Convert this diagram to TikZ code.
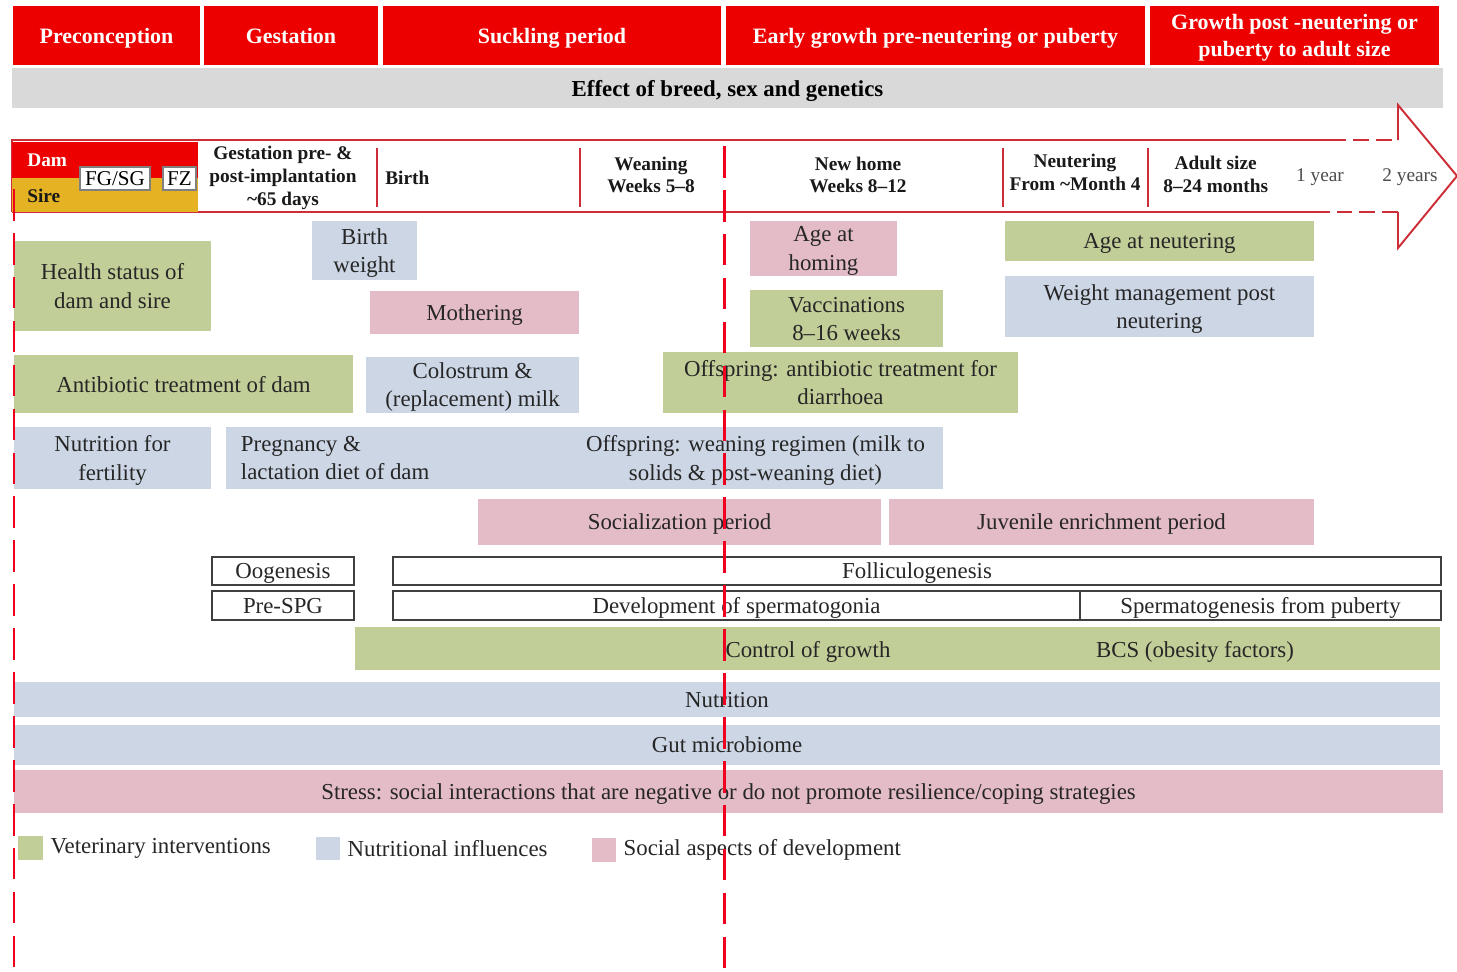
\documentclass[tikz,border=0pt]{standalone}
\usepackage{fontspec}
\setmainfont{Liberation Serif}
\usepackage{tikz}
\usetikzlibrary{positioning}

\definecolor{hdrred}{RGB}{236,0,0}
\definecolor{bandgray}{RGB}{217,217,217}
\definecolor{vetgreen}{RGB}{194,206,152}
\definecolor{nutblue}{RGB}{204,214,229}
\definecolor{socpink}{RGB}{228,188,200}
\definecolor{siregold}{RGB}{228,178,34}
\definecolor{arrred}{RGB}{205,45,55}
\definecolor{lnred}{RGB}{240,0,30}

\begin{document}
\begin{tikzpicture}[
    x=0.02cm, y=-0.02cm,
    region/.style args={#1/#2/#3/#4}{at={({(#1+#3)/2},{(#2+#4)/2})},
        minimum width={(#3-#1)*0.02cm}, minimum height={(#4-#2)*0.02cm}},
    txt/.style={font=\fontsize{13}{16}\selectfont, text=black!85, align=center, inner sep=0pt},
    band/.style={txt, fill=#1, text depth=0pt},
    outbox/.style={txt, draw=black!75, line width=0.9pt, fill=white, text depth=0pt},
    hdr/.style={fill=hdrred, draw=white, line width=1pt, inner sep=0pt, text=white, align=center,
                text depth=0pt, font=\bfseries\fontsize{12.5}{15}\selectfont},
    tl/.style={font=\bfseries\fontsize{11}{13}\selectfont, text=black!90, align=center, inner sep=0pt},
    tag/.style={draw=black!50, fill=white, line width=0.6pt, inner sep=0pt, text depth=0pt,
                font=\fontsize{12}{14}\selectfont},
    divider/.style={draw=arrred, line width=1.1pt},
    vline/.style={draw=lnred, line width=1.7pt, dash pattern=on 18pt off 7pt}
]
\path[fill=white, use as bounding box] (0,0) rectangle (1457,971);

% Stage header
\node[hdr, region=12/5/201/66] (pre) {Preconception};
\node[hdr, region=203/5/379/66] (gest) {Gestation};
\node[hdr, region=382/5/722/66] (suck) {Suckling period};
\node[hdr, region=725/5/1146/66] (early) {Early growth pre-neutering or puberty};
\node[hdr, region=1149/5/1440/66] (late) {Growth post -neutering or\\puberty to adult size};
\node[band=bandgray, region=12/68/1443/108, font=\bfseries\fontsize{13}{16}\selectfont, text=black] (breed) {Effect of breed, sex and genetics};

% Timeline arrow
\fill[white] (12,140) -- (1398,140) -- (1398,105) -- (1457,176) -- (1398,248) -- (1398,212) -- (12,212) -- cycle;
\draw[divider] (12,212) -- (12,140) -- (1330,140);
\draw[divider, dash pattern=on 9pt off 4pt] (1330,140) -- (1398,140);
\draw[divider] (1398,140) -- (1398,105) -- (1457,176) -- (1398,248) -- (1398,212);
\draw[divider, dash pattern=on 9pt off 4pt] (1398,212) -- (1330,212);
\draw[divider] (1330,212) -- (12,212);

\node[fill=hdrred, inner sep=0pt, region=12/142/198/178] (dam) {};
\node[fill=siregold, inner sep=0pt, region=12/178/198/212] (sire) {};
\node[tl, text=white, anchor=west] (damtxt) at (27,160) {Dam};
\node[tl, anchor=west] (siretxt) at (27,196) {Sire};
\node[tag, region=80/167/150/190] (fgsg) {FG/SG};
\node[tag, region=163/167/196/190] (fz) {FZ};

\node[tl] (gpi) at (283,178) {Gestation pre- \&\\post-implantation\\\textasciitilde65 days};
\node[tl, anchor=west] (birth) at (385,178) {Birth};
\node[tl] (wean) at (651,175) {Weaning\\Weeks 5--8};
\node[tl] (home) at (858,175) {New home\\Weeks 8--12};
\node[tl] (neut) at (1075,172) {Neutering\\From \textasciitilde Month 4};
\node[tl, anchor=west] (adult) at (1163,174) {Adult size\\8--24 months};
\node[txt, font=\fontsize{11}{13}\selectfont, text=black!70] (yr1) at (1320,177) {1 year};
\node[txt, font=\fontsize{11}{13}\selectfont, text=black!70] (yr2) at (1410,177) {2 years};

\foreach \xpos in {377, 580, 1003, 1148} {
    \draw[divider] (\xpos,148) -- (\xpos,207);
}

% Influences
\node[band=nutblue, region=312/221/417/280] (bw) {Birth\\weight};
\node[band=vetgreen, region=14/241/211/331] (health) {Health status of\\dam and sire};
\node[band=socpink, region=370/291/579/334] (mother) {Mothering};
\node[band=socpink, region=750/221/897/276] (homing) {Age at\\homing};
\node[band=vetgreen, region=750/290/943/347] (vacc) {Vaccinations\\8--16 weeks};
\node[band=vetgreen, region=1005/221/1314/261] (ageneut) {Age at neutering};
\node[band=nutblue, region=1005/276/1314/337] (weight) {Weight management post\\neutering};
\node[band=vetgreen, region=14/355/353/413] (abdam) {Antibiotic treatment of dam};
\node[band=nutblue, region=366/357/579/413] (colos) {Colostrum \&\\(replacement) milk};
\node[band=vetgreen, region=663/352/1018/413] (aboff) {Offspring: antibiotic treatment for\\diarrhoea};
\node[band=nutblue, region=14/427/211/489] (fert) {Nutrition for\\fertility};
\node[band=nutblue, region=226/427/570/489] (preg) {};
\node[txt, anchor=west, align=left, text depth=0pt] (pregtxt) at ([xshift=0.3cm]preg.west) {Pregnancy \&\\lactation diet of dam};
\node[band=nutblue, region=568/427/943/489] (weanreg) {Offspring: weaning regimen (milk to\\solids \& post-weaning diet)};
\node[band=socpink, region=478/499/881/545] (social) {Socialization period};
\node[band=socpink, region=889/499/1314/545] (juv) {Juvenile enrichment period};

% Germ cells
\node[outbox, region=212/557/354/585] (oog) {Oogenesis};
\node[outbox, region=393/557/1441/585] (foll) {Folliculogenesis};
\node[outbox, region=212/591/354/620] (prespg) {Pre-SPG};
\node[outbox, region=393/591/1080/620] (devspg) {Development of spermatogonia};
\node[outbox, region=1080/591/1441/620] (spgpub) {Spermatogenesis from puberty};

% Whole-life bands
\node[band=vetgreen, region=355/627/1440/670] (growth) {};
\node[txt, text depth=0pt] (ctrl) at (808,649) {Control of growth};
\node[txt, text depth=0pt] (bcs) at (1195,649) {BCS (obesity factors)};
\node[band=nutblue, region=14/682/1440/717] (nutr) {Nutrition};
\node[band=nutblue, region=14/725/1440/765] (gut) {Gut microbiome};
\node[band=socpink, region=14/770/1443/813] (stress) {Stress: social interactions that are negative or do not promote resilience/coping strategies};

% Legend
\node[band=vetgreen, region=18/836/43/860] (keyvet) {};
\node[txt, right=0.14cm of keyvet] (keyvettxt) {Veterinary interventions};
\node[band=nutblue, region=316/837/340/860] (keynut) {};
\node[txt, right=0.14cm of keynut] (keynuttxt) {Nutritional influences};
\node[band=socpink, region=592/838/616/862] (keysoc) {};
\node[txt, right=0.14cm of keysoc] (keysoctxt) {Social aspects of development};

% Reference lines
\draw[vline] (14,189) -- (14,971);
\draw[vline] (724,146) -- (724,971);

\end{tikzpicture}
\end{document}
